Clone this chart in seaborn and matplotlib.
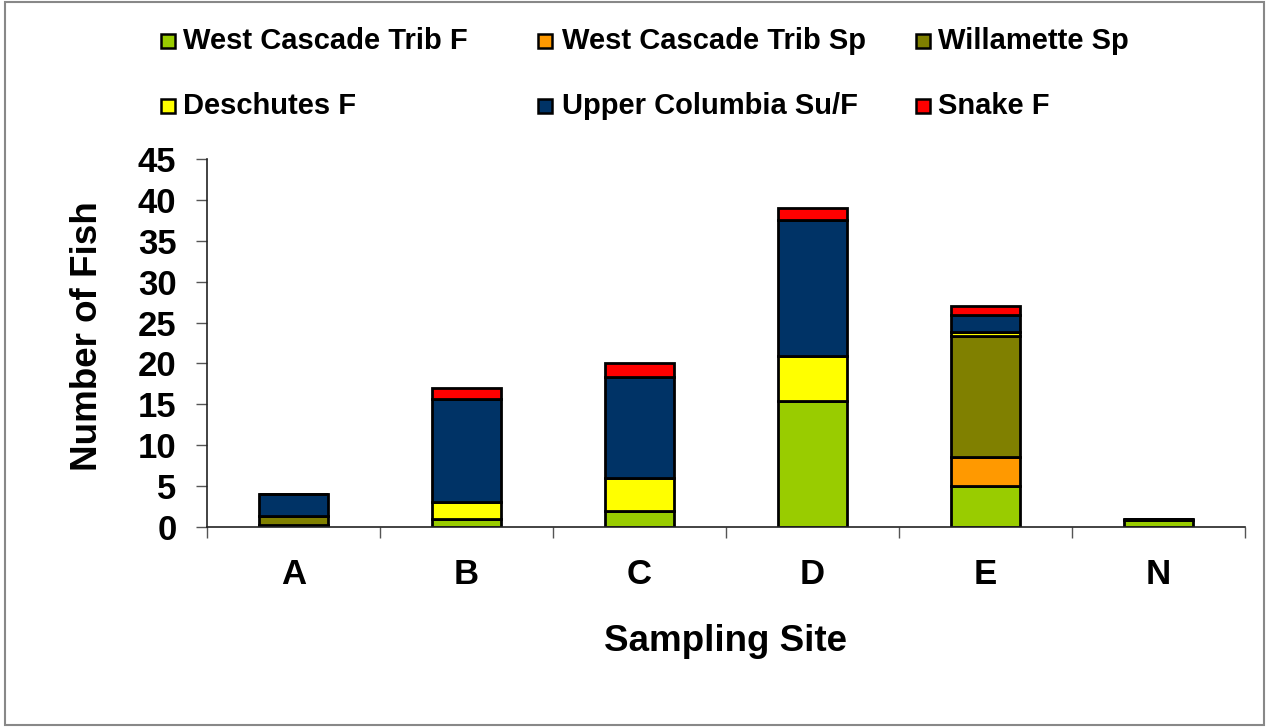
import numpy as np
import matplotlib
matplotlib.use('Agg')
import matplotlib.pyplot as plt
import seaborn as sns
from matplotlib.patches import Rectangle

sites = ['A', 'B', 'C', 'D', 'E', 'N']

groups = ['West Cascade Trib F', 'West Cascade Trib Sp', 'Willamette Sp',
          'Deschutes F', 'Upper Columbia Su/F', 'Snake F']
colors = ['#99CC00', '#FF9900', '#808000', '#FFFF00', '#003366', '#FF0000']

west_cascade_f = [0.3, 1.0, 1.9, 15.4, 5.0, 0.8]
west_cascade_sp = [0.0, 0.0, 0.0, 0.0, 3.5, 0.0]
willamette_sp = [1.1, 0.0, 0.0, 0.0, 14.8, 0.2]
deschutes_f = [0.0, 2.0, 4.1, 5.5, 0.5, 0.0]
upper_columbia = [2.6, 12.6, 12.3, 16.6, 2.1, 0.0]
snake_f = [0.0, 1.4, 1.7, 1.5, 1.1, 0.0]

series = [west_cascade_f, west_cascade_sp, willamette_sp,
          deschutes_f, upper_columbia, snake_f]

sns.set_style('white')
plt.rcParams['font.family'] = ['Liberation Sans', 'DejaVu Sans']
plt.rcParams['font.weight'] = 'bold'
plt.rcParams['text.color'] = 'black'
plt.rcParams['axes.labelcolor'] = 'black'
plt.rcParams['xtick.labelcolor'] = 'black'
plt.rcParams['ytick.labelcolor'] = 'black'

W, H = 1268, 727
fig = plt.figure(figsize=(W / 100, H / 100), dpi=100)
ax = fig.add_axes([207 / W, 1 - 527 / H, (1245 - 207) / W, (527 - 159) / H])

bottom = np.zeros(len(sites))
for vals, col in zip(series, colors):
    vals = np.array(vals)
    sns.barplot(x=sites, y=vals, bottom=bottom, color=col, width=0.4,
                edgecolor='black', linewidth=2.0, saturation=1, ax=ax)
    bottom += vals

ax.set_ylim(0, 45)
ax.set_yticks(range(0, 46, 5))
ax.set_xlim(-0.5, len(sites) - 0.5)
# boundary ticks as major, labels as minor at centers
ax.set_xticks(np.arange(-0.5, len(sites), 1.0))
ax.set_xticklabels([])
ax.set_xticks(np.arange(len(sites)), minor=True)
ax.set_xticklabels(sites, minor=True, fontsize=25, fontweight='bold')
ax.tick_params(axis='x', which='major', direction='out', length=8, width=1, color='#555555', bottom=True)
ax.tick_params(axis='x', which='minor', length=0, pad=22)
ax.tick_params(axis='y', direction='out', length=8, width=1, color='#555555',
               left=True, labelsize=25, pad=14)
for lab in ax.get_yticklabels():
    lab.set_fontweight('bold')

sns.despine(ax=ax, top=True, right=True)
for s in ['left', 'bottom']:
    ax.spines[s].set_color('#222222')
    ax.spines[s].set_linewidth(1.2)

ax.set_xlabel('Sampling Site', fontsize=26.5, fontweight='bold', labelpad=24)
ax.set_ylabel('Number of Fish', fontsize=26.5, fontweight='bold')
ax.yaxis.set_label_coords(-0.098, 0.52)

# legend laid out like the original (two rows, three columns)
marker_x = [161, 538, 916]
text_x = [183, 562, 938]
row_y = [41, 106]
for i, (name, col) in enumerate(zip(groups, colors)):
    r, c = divmod(i, 3)
    cy = row_y[r]
    fig.add_artist(Rectangle((marker_x[c] / W, 1 - (cy + 7) / H), 14 / W, 14 / H,
                             transform=fig.transFigure, facecolor=col,
                             edgecolor='black', linewidth=1.8))
    fig.text(text_x[c] / W, 1 - cy / H, name, fontsize=21, fontweight='bold',
             ha='left', va='center')

fig.add_artist(Rectangle((5 / W, 2 / H), (1264 - 5) / W, (H - 4) / H,
                         transform=fig.transFigure, fill=False,
                         edgecolor='#888888', linewidth=1.5))

fig.savefig('out.png', dpi=100)
